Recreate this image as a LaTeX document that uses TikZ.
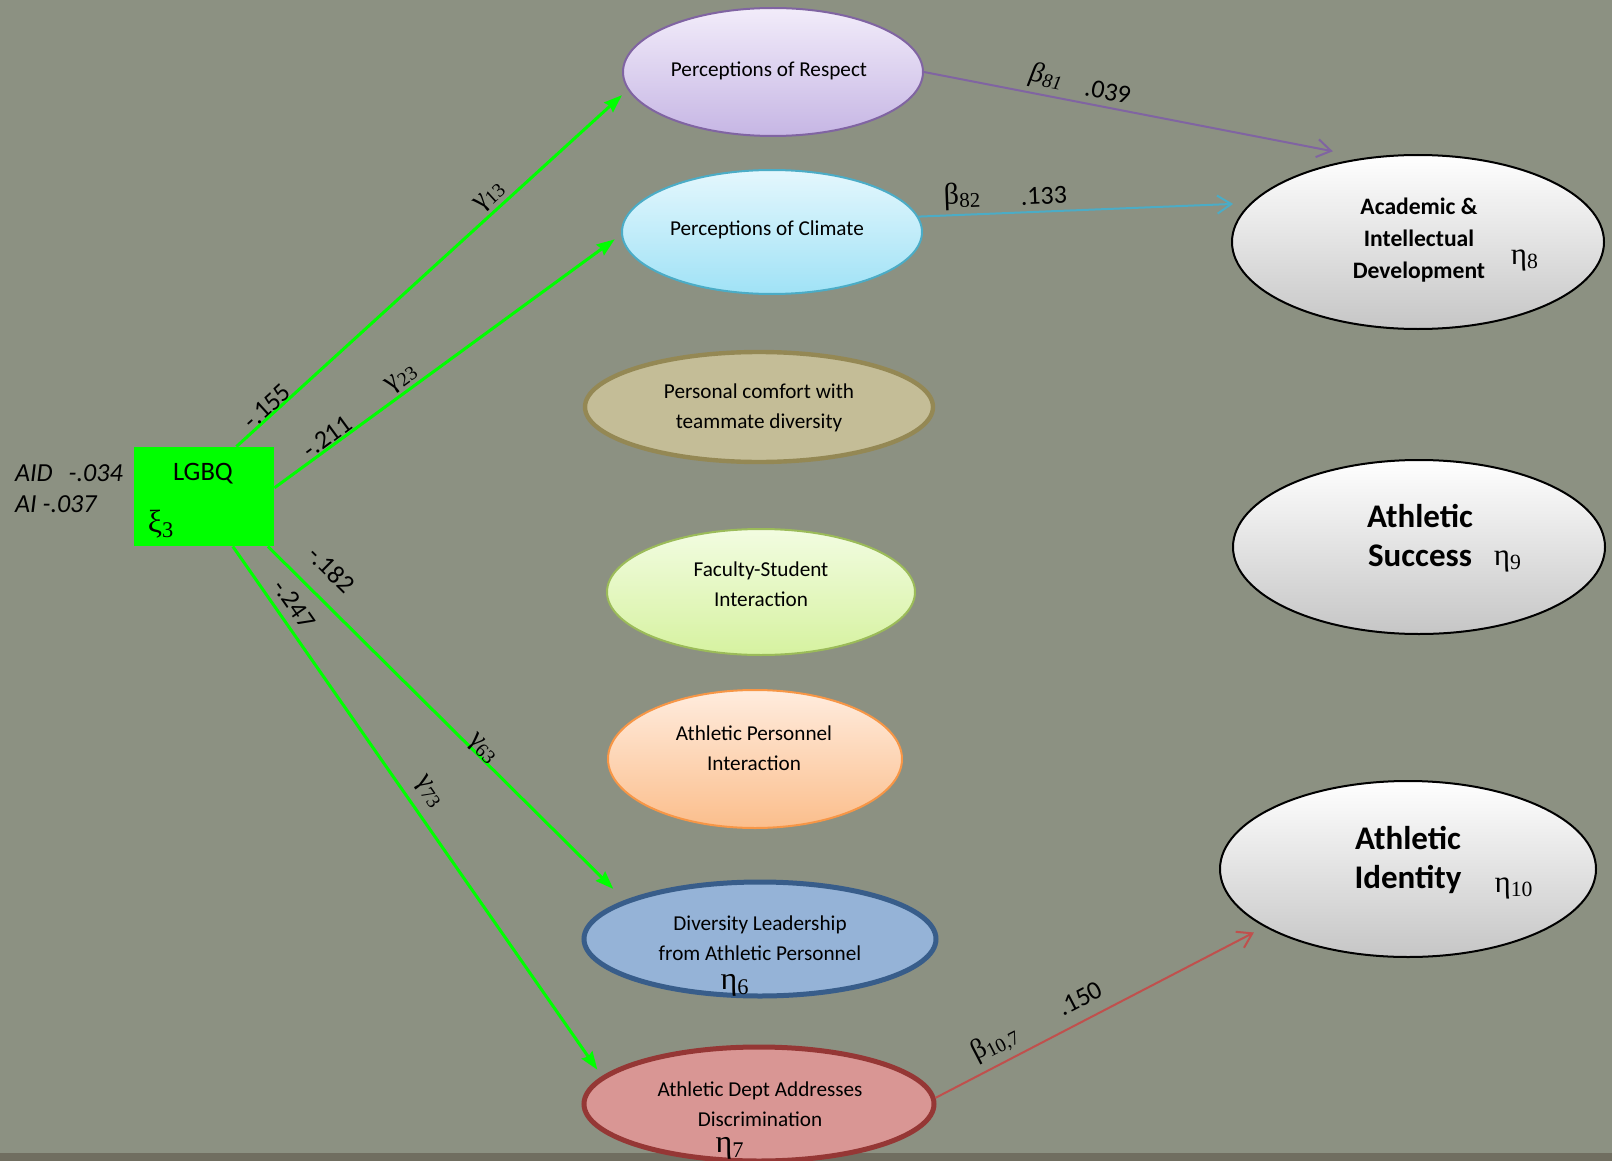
\documentclass[tikz,border=0pt]{standalone}
\usepackage{fontspec}
\setmainfont{Carlito}
\newfontfamily\grk{Liberation Serif}
\usetikzlibrary{shapes.geometric,arrows.meta}

\definecolor{board}{RGB}{140,145,130}
\definecolor{lgbqgreen}{RGB}{0,255,0}
\definecolor{respline}{RGB}{128,100,162}
\definecolor{resptop}{RGB}{242,236,250}
\definecolor{respbot}{RGB}{198,182,228}
\definecolor{climline}{RGB}{75,172,198}
\definecolor{climtop}{RGB}{228,247,253}
\definecolor{climbot}{RGB}{160,226,246}
\definecolor{comffill}{RGB}{196,189,151}
\definecolor{comfline}{RGB}{148,136,84}
\definecolor{facstop}{RGB}{242,252,225}
\definecolor{facsbot}{RGB}{214,242,160}
\definecolor{facsline}{RGB}{155,187,89}
\definecolor{apertop}{RGB}{255,236,222}
\definecolor{aperbot}{RGB}{251,190,140}
\definecolor{aperline}{RGB}{247,150,70}
\definecolor{divlfill}{RGB}{149,179,215}
\definecolor{divlline}{RGB}{56,93,138}
\definecolor{deptfill}{RGB}{217,150,148}
\definecolor{deptline}{RGB}{149,55,53}
\definecolor{redpath}{RGB}{192,80,77}
\definecolor{strip}{RGB}{112,110,96}

\begin{document}
\begin{tikzpicture}[x=0.5pt, y=-0.5pt,
    construct/.style={ellipse, inner sep=0pt},
    ctext/.style={align=center, inner sep=0pt, font=\fontsize{10.6}{15}\selectfont},
    outcome/.style={ellipse, draw=black, line width=1pt, top color=white, bottom color=gray!45, inner sep=0pt},
    otext/.style={align=center, inner sep=0pt, font=\bfseries\fontsize{11.8}{16}\selectfont},
    bigtext/.style={align=center, inner sep=0pt, font=\bfseries\fontsize{16.5}{19.5}\selectfont},
    gpath/.style={draw=lgbqgreen, line width=1.5pt, -{Stealth[length=9pt, width=6.5pt, inset=1pt]}},
    bpath/.style={line width=1pt, -{Straight Barb[length=7pt, width=9pt]}},
    coef/.style={sloped, inner sep=0pt, font=\fontsize{13}{13}\selectfont},
    gcoef/.style={sloped, inner sep=0pt, font=\grk\fontsize{14}{14}\selectfont},
    bcoef/.style={sloped, inner sep=0pt, font=\grk\fontsize{14}{14}\selectfont},
    eta/.style={inner sep=0pt, font=\grk\fontsize{15.5}{15.5}\selectfont},
]
    \useasboundingbox (0,0) rectangle (1612,1161);
    \fill[board] (0,0) rectangle (1612,1161); % Background
    \fill[strip] (0,1153) rectangle (1612,1161); % Bottom strip

    % Exogenous variable
    \node[rectangle, fill=lgbqgreen, inner sep=0pt, minimum width=70pt, minimum height=49.5pt] (lgbq) at (204,496.5) {};
    \node[font=\fontsize{13.3}{13.3}\selectfont] (lgbqname) at (203,474) {LGBQ};
    \node[eta, font=\grk\fontsize{16}{16}\selectfont] (xi3) at (161,524) {ξ\textsubscript{3}};
    \node[anchor=west, font=\itshape\fontsize{13}{13}\selectfont] (aid) at (8,473) {AID\hspace{8pt}-.034};
    \node[anchor=west, font=\itshape\fontsize{13}{13}\selectfont] (ai) at (8,504) {AI -.037};

    % Mediating constructs
    \node[construct, draw=respline, line width=1pt, top color=resptop, bottom color=respbot, minimum width=150pt, minimum height=64pt] (resp) at (773,72) {};
    \node[ctext] (resptext) at (769,71) {Perceptions of Respect};
    \node[construct, draw=climline, line width=1pt, top color=climtop, bottom color=climbot, minimum width=150pt, minimum height=62pt] (clim) at (772,232) {};
    \node[ctext] (climtext) at (767,230) {Perceptions of Climate};
    \node[construct, draw=comfline, fill=comffill, line width=2.2pt, minimum width=174pt, minimum height=55pt] (comf) at (759,407) {};
    \node[ctext] (comftext) at (759,408) {Personal comfort with\\teammate diversity};
    \node[construct, draw=facsline, line width=1pt, top color=facstop, bottom color=facsbot, minimum width=154pt, minimum height=63pt] (facs) at (761,592) {};
    \node[ctext] (facstext) at (761,584) {Faculty-Student\\Interaction};
    \node[construct, draw=aperline, line width=1pt, top color=apertop, bottom color=aperbot, minimum width=147pt, minimum height=69pt] (aper) at (755,759) {};
    \node[ctext] (apertext) at (754,748) {Athletic Personnel\\Interaction};
    \node[construct, draw=divlline, fill=divlfill, line width=2.5pt, minimum width=176pt, minimum height=57pt] (divl) at (760,939) {};
    \node[ctext] (divltext) at (760,938) {Diversity Leadership\\from Athletic Personnel};
    \node[construct, draw=deptline, fill=deptfill, line width=2.5pt, minimum width=175pt, minimum height=57pt] (dept) at (759,1104) {};
    \node[ctext] (depttext) at (760,1104) {Athletic Dept Addresses\\Discrimination};
    \node[eta, font=\grk\fontsize{16}{16}\selectfont] (eta6) at (735,985) {η\textsubscript{6}};
    \node[eta, font=\grk\fontsize{16}{16}\selectfont] (eta7) at (730,1148) {η\textsubscript{7}};

    % Outcomes
    \node[outcome, minimum width=186pt, minimum height=87pt] (acad) at (1418,242) {};
    \node[otext] (acadtext) at (1419,240) {Academic \&\\Intellectual\\Development};
    \node[outcome, minimum width=186pt, minimum height=87pt] (succ) at (1419,547) {};
    \node[bigtext] (succtext) at (1420,536) {Athletic\\Success};
    \node[outcome, minimum width=188pt, minimum height=88pt] (iden) at (1408,869) {};
    \node[bigtext] (identext) at (1408,859.5) {Athletic\\Identity};
    \node[eta] (eta8) at (1525,260) {η\textsubscript{8}};
    \node[eta] (eta9) at (1508,561) {η\textsubscript{9}};
    \node[eta] (eta10) at (1514,888) {η\textsubscript{10}};

    % Paths from LGBQ
    \draw[gpath, shorten >=4pt] (lgbq.57) -- (resp.187)
        node[coef, pos=.094, above=-0.5pt] {-.155}
        node[gcoef, pos=.672, above=1.5pt] {γ\textsubscript{13}};
    \draw[gpath, shorten >=4pt] (lgbq.7) -- (clim.181)
        node[coef, pos=.17, above=0pt] {-.211}
        node[gcoef, pos=.39, above=1pt] {γ\textsubscript{23}};
    \draw[gpath, shorten >=8pt] (lgbq.-38) -- (divl.164)
        node[coef, pos=.122, above=9pt] {-.182}
        node[gcoef, pos=.587, above=-2pt] {γ\textsubscript{63}};
    \draw[gpath, shorten >=4pt] (lgbq.-60) -- (dept.170)
        node[coef, pos=.128, above=3.5pt] {-.247}
        node[gcoef, pos=.486, above=4.5pt] {γ\textsubscript{73}};

    % Paths to outcomes
    \draw[bpath, draw=respline, shorten >=16.5pt] (resp.east) -- (acad.122)
        node[bcoef, pos=.27, above=2.5pt] {\itshape β\textsubscript{81}}
        node[coef, pos=.41, above=3pt] {.039};
    \draw[bpath, draw=climline, shorten >=8.5pt] (clim.6) -- (acad.167)
        node[bcoef, pos=.135, above=2pt, font=\grk\fontsize{15}{15}\selectfont] {β\textsubscript{82}}
        node[coef, pos=.38, above=3pt] {.133};
    \draw[bpath, draw=redpath, shorten >=6pt] (dept.2) -- (iden.202)
        node[bcoef, pos=.21, above=3pt] {β\textsubscript{10,7}}
        node[coef, pos=.47, above=6pt] {.150};
\end{tikzpicture}
\end{document}
